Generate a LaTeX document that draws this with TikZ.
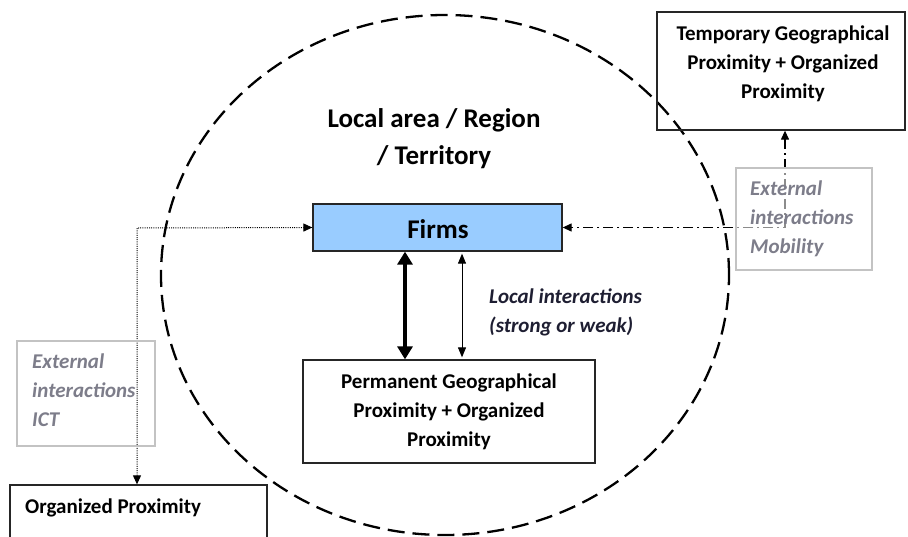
\documentclass[tikz,border=0pt]{standalone}
\usepackage{fontspec}
\setmainfont{Carlito}
\usetikzlibrary{arrows.meta}
\definecolor{firmsblue}{RGB}{153,204,255}
\definecolor{greytxt}{RGB}{125,125,138}
\definecolor{greyline}{RGB}{195,195,195}
\definecolor{localtxt}{RGB}{30,30,50}
\begin{document}
\begin{tikzpicture}[x=1pt,y=-1pt,
  box/.style={draw=black!85, line width=1.3pt, inner sep=0pt},
  bodytext/.style={font=\fontsize{21}{29}\selectfont\bfseries, align=center, inner sep=0pt},
  bigtext/.style={font=\fontsize{27}{37}\selectfont\bfseries, align=center, inner sep=0pt},
  greybox/.style={draw=greyline, line width=1.3pt, inner sep=0pt},
  greytext/.style={font=\fontsize{21}{29}\selectfont\bfseries\itshape, text=greytxt, align=left, inner sep=0pt, anchor=west},
  region/.style={line width=2.3pt, dash pattern=on 17pt off 8pt},
  dotline/.style={line width=1pt, dash pattern=on 1pt off 1.2pt, {Triangle[length=9pt,width=8pt]}-{Triangle[length=9pt,width=8pt]}},
  dashdotline/.style={line width=1.2pt, dash pattern=on 10pt off 4pt on 2pt off 4pt, {Triangle[length=9pt,width=8pt]}-{Triangle[length=9pt,width=8pt]}},
  strongarrow/.style={line width=3.5pt, {Triangle[length=13pt,width=15pt]}-{Triangle[length=13pt,width=15pt]}},
  weakarrow/.style={line width=1pt, {Triangle[length=10pt,width=8pt]}-{Triangle[length=10pt,width=8pt]}}
]
\clip (0,0) rectangle (908,536);
\fill[white] (0,0) rectangle (908,536);

% region ellipse
\draw[region] (445,275) ellipse [x radius=284pt, y radius=260pt];

% title
\node[bigtext] (title) at (434,139) {Local area / Region\\/ Territory};

% boxes
\node[box, minimum width=248pt, minimum height=118pt] (temp) at (781,71) {};
\node[bodytext] (templabel) at (783,64) {Temporary Geographical\\Proximity + Organized\\Proximity};

\node[box, fill=firmsblue, minimum width=249pt, minimum height=47pt] (firms) at (437.5,227.5) {};
\node[bigtext] (firmslabel) at (438,229) {Firms};

\node[box, minimum width=292pt, minimum height=103pt] (perm) at (449,411.5) {};
\node[bodytext] (permlabel) at (449,412) {Permanent Geographical\\Proximity + Organized\\Proximity};

\node[box, minimum width=257pt, minimum height=60pt] (org) at (138.5,515) {};
\node[bodytext, anchor=west] (orglabel) at (25,508) {Organized Proximity};

% connectors
\coordinate (dotcorner) at (137,228);
\draw[dotline] (org.north -| dotcorner) -- (dotcorner) -- (firms.west);

\coordinate (ddcorner) at (785,227.5);
\draw[dashdotline] (temp.south -| ddcorner) -- (ddcorner) -- (firms.east);

\coordinate (strongx) at (405,0);
\draw[strongarrow] (firms.south -| strongx) -- (perm.north -| strongx);

\coordinate (weakx) at (462,0);
\draw[weakarrow, shorten <=2pt, shorten >=2pt] (firms.south -| weakx) -- (perm.north -| weakx);

\node[font=\fontsize{21}{29}\selectfont\bfseries\itshape, text=localtxt, align=left, inner sep=0pt, anchor=west] (locallabel) at (489,312) {Local interactions\\(strong or weak)};

% grey boxes
\node[greybox, minimum width=138pt, minimum height=105pt] (ict) at (86,393.5) {};
\node[greytext] (ictlabel) at (32,390.5) {External\\interactions\\ICT};

\node[greybox, fill=white, fill opacity=0.55, minimum width=136pt, minimum height=102pt] (mob) at (804,219) {};
\node[greytext] (moblabel) at (750,219) {External\\interactions\\Mobility};
\end{tikzpicture}
\end{document}
